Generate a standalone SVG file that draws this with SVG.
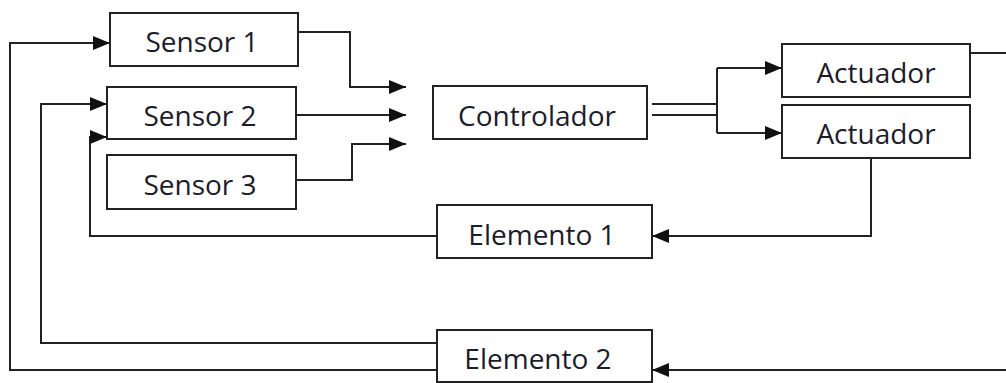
<svg xmlns="http://www.w3.org/2000/svg" width="1006" height="383" viewBox="0 0 1006 383">
  <style>
    .box { fill: #ffffff; stroke: #222222; stroke-width: 2; }
    .lbl { font-family: "Open Sans", "Liberation Sans", sans-serif; font-size: 28px; fill: #1c1c2a; text-anchor: middle; }
    .wire { fill: none; stroke: #222222; stroke-width: 2; }
    .arrow { marker-end: url(#head); }
  </style>
  <defs>
    <marker id="head" markerUnits="userSpaceOnUse" markerWidth="18" markerHeight="14" refX="17" refY="7" orient="auto">
      <path d="M0,0 L17,7 L0,14 z" fill="#111111"/>
    </marker>
  </defs>
  <rect width="1006" height="383" fill="#ffffff"/>

  <!-- connectors -->
  <g id="connectors">
    <!-- sensors into the controller -->
    <path class="wire arrow" d="M298 32 H350 V87 H406"/>
    <path class="wire arrow" d="M296 115 H406"/>
    <path class="wire arrow" d="M296 180 H352 V144 H406"/>
    <!-- controller out to both actuators -->
    <path class="wire" d="M652 104 H717 M652 115 H717 M717 68 V133"/>
    <path class="wire arrow" d="M717 68 H782"/>
    <path class="wire arrow" d="M717 133 H782"/>
    <!-- actuators to the process elements -->
    <path class="wire arrow" d="M970 53 H1012 V370 H652"/>
    <path class="wire arrow" d="M871 158 V236 H652"/>
    <!-- feedback to the sensors -->
    <path class="wire arrow" d="M437 236 H90 V137 H107"/>
    <path class="wire arrow" d="M437 343 H41 V104 H107"/>
    <path class="wire arrow" d="M437 370 H10 V43 H110"/>
  </g>

  <g id="sensor1">
    <rect class="box" x="110" y="13" width="188" height="53"/>
    <text class="lbl" x="202" y="52">Sensor 1</text>
  </g>
  <g id="sensor2">
    <rect class="box" x="107" y="87" width="189" height="52"/>
    <text class="lbl" x="200" y="126">Sensor 2</text>
  </g>
  <g id="sensor3">
    <rect class="box" x="107" y="155" width="189" height="54"/>
    <text class="lbl" x="200" y="195">Sensor 3</text>
  </g>
  <g id="controlador">
    <rect class="box" x="433" y="86" width="214" height="53"/>
    <text class="lbl" x="537" y="126">Controlador</text>
  </g>
  <g id="actuador1">
    <rect class="box" x="782" y="44" width="188" height="53"/>
    <text class="lbl" x="876" y="83">Actuador</text>
  </g>
  <g id="actuador2">
    <rect class="box" x="782" y="105" width="188" height="53"/>
    <text class="lbl" x="876" y="144">Actuador</text>
  </g>
  <g id="elemento1">
    <rect class="box" x="437" y="205" width="215" height="53"/>
    <text class="lbl" x="542" y="245">Elemento 1</text>
  </g>
  <g id="elemento2">
    <rect class="box" x="437" y="330" width="215" height="52"/>
    <text class="lbl" x="538" y="369">Elemento 2</text>
  </g>
</svg>
